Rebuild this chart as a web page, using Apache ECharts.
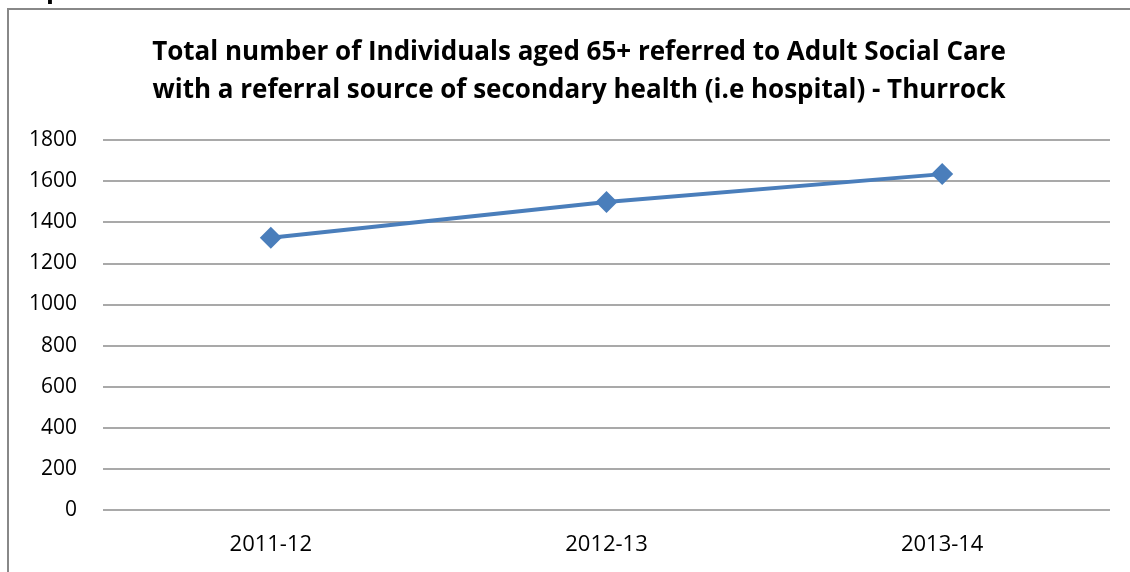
<!DOCTYPE html>
<html>
<head>
<meta charset="utf-8">
<script src="https://cdn.jsdelivr.net/npm/echarts@6/dist/echarts.min.js"></script>
<style>
  html, body { margin: 0; padding: 0; background: #fff; }
  #main { width: 1130px; height: 572px; }
</style>
</head>
<body>
<div id="main"></div>
<script>
var years = ['2011-12', '2012-13', '2013-14'];
var referrals = [1324, 1498, 1634];
var chartTitle = 'Total number of Individuals aged 65+ referred to Adult Social Care\nwith a referral source of secondary health (i.e hospital) - Thurrock';

var myChart = echarts.init(document.getElementById('main'));
var option = {
    animation: false,
    title: {
        text: chartTitle,
        left: 574,
        textAlign: 'center',
        top: 29,
        textStyle: {
            fontFamily: 'Open Sans',
            fontWeight: 'bold',
            fontSize: 26,
            lineHeight: 38,
            color: '#000'
        }
    },
    graphic: [
        {
            type: 'rect',
            shape: { x: 8, y: 9, width: 1140, height: 600 },
            style: { fill: 'none', stroke: '#888', lineWidth: 2 },
            silent: true
        },
        {
            type: 'text',
            left: 0,
            top: -22,
            style: { text: 'hospital', font: 'bold 26px "Open Sans"', fill: '#000' }
        }
    ],
    grid: { left: 103, right: 20, top: 140, bottom: 62 },
    xAxis: {
        type: 'category',
        data: years,
        axisLine: { show: false },
        axisTick: { show: false },
        axisLabel: { fontFamily: 'Open Sans', fontSize: 22, color: '#000', margin: 24 }
    },
    yAxis: {
        type: 'value',
        min: 0,
        max: 1800,
        interval: 200,
        axisLine: { show: false },
        axisTick: { show: false },
        axisLabel: {
            fontFamily: 'Open Sans', fontSize: 21, color: '#000', margin: 26,
            formatter: function (v) { return String(v); }
        },
        splitLine: { lineStyle: { color: '#8c8c8c', width: 1.5 } }
    },
    series: [{
        type: 'line',
        data: referrals,
        symbol: 'diamond',
        symbolSize: 22,
        lineStyle: { color: '#4a7ebb', width: 4 },
        itemStyle: { color: '#4a7ebb' }
    }]
};
myChart.setOption(option);
</script>
</body>
</html>
